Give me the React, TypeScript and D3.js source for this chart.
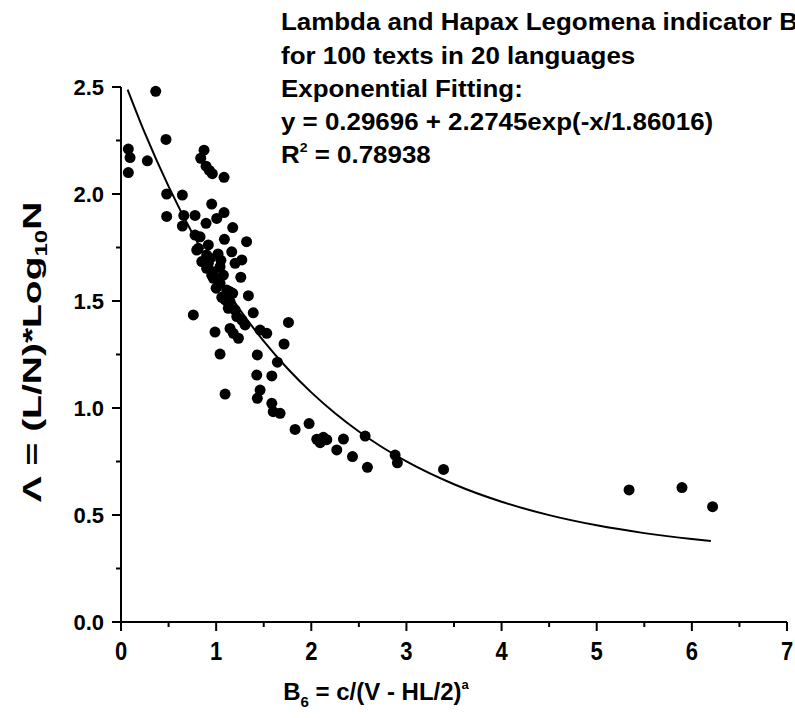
import React from 'react';
import * as d3 from 'd3';

const W = 795;
const H = 718;

const xTicks = [0, 1, 2, 3, 4, 5, 6, 7];
const xMinor = [0.5, 1.5, 2.5, 3.5, 4.5, 5.5, 6.5];
const yTicks = [0, 0.5, 1.0, 1.5, 2.0, 2.5];
const yMinor = [0.25, 0.75, 1.25, 1.75, 2.25];

const pointsX = [
  0.077, 0.095, 0.077, 0.277, 0.365, 0.473, 0.48, 0.645, 0.48, 0.66,
  0.645, 0.778, 0.873, 0.838, 0.894, 0.929, 0.96, 1.083, 0.953, 0.894,
  1.006, 1.083, 1.174, 0.831, 1.087, 1.32, 0.813, 0.918, 1.164, 0.9,
  1.27, 1.199, 0.883, 0.9, 0.971, 1.041, 1.076, 1.259, 1.041, 1.111,
  1.174, 1.339, 1.059, 1.128, 0.778, 0.796, 0.849, 0.918, 0.954, 0.971,
  1.146, 1.094, 1.146, 1.199, 1.217, 1.27, 1.304, 1.146, 1.18, 1.234,
  1.462, 1.532, 1.39, 0.76, 0.988, 1.76, 1.714, 1.041, 1.433, 1.644,
  1.427, 1.585, 1.094, 1.462, 1.433, 1.585, 1.6, 1.672, 1.83, 1.977,
  2.058, 2.127, 2.163, 2.093, 2.338, 2.268, 2.433, 2.566, 2.59, 2.881,
  2.905, 3.39, 5.34, 5.896, 6.218, 1.128, 1.0, 0.94, 1.02, 1.05,
];
const pointsY = [
  2.21, 2.17, 2.10, 2.155, 2.48, 2.255, 2.0, 1.995, 1.895, 1.9,
  1.85, 1.9, 2.205, 2.167, 2.13, 2.11, 2.095, 2.078, 1.953, 1.863,
  1.886, 1.913, 1.843, 1.8, 1.788, 1.777, 1.746, 1.762, 1.73, 1.715,
  1.692, 1.676, 1.684, 1.653, 1.637, 1.66, 1.621, 1.611, 1.583, 1.551,
  1.536, 1.525, 1.517, 1.489, 1.808, 1.738, 1.684, 1.676, 1.62, 1.606,
  1.543, 1.505, 1.497, 1.458, 1.427, 1.411, 1.388, 1.372, 1.349, 1.326,
  1.364, 1.349, 1.445, 1.435, 1.355, 1.4, 1.299, 1.252, 1.248, 1.214,
  1.154, 1.15, 1.065, 1.084, 1.045, 1.022, 0.983, 0.975, 0.9, 0.927,
  0.854, 0.863, 0.852, 0.838, 0.855, 0.804, 0.773, 0.869, 0.723, 0.78,
  0.744, 0.713, 0.617, 0.628, 0.539, 1.466, 1.56, 1.7, 1.72, 1.69,
];

// Exponential fit curve samples (as displayed on chart)
const fitX = [0.07, 0.25, 0.5, 0.75, 1.0, 1.25, 1.5, 1.75, 2.0, 2.25, 2.5, 2.75, 3.0, 3.5, 4.0, 4.5, 5.0, 5.5, 6.0, 6.2];
const fitY = [2.4876, 2.2854, 2.0354, 1.8168, 1.6257, 1.4585, 1.3125, 1.1847, 1.0731, 0.9754, 0.8902, 0.8155, 0.7503, 0.6436, 0.5618, 0.4994, 0.4517, 0.4153, 0.3873, 0.3781];

const titleLines = [
  'for 100 texts in 20 languages',
  'Exponential Fitting:',
  'y = 0.29696 + 2.2745exp(-x/1.86016)',
];

const FONT = '"Liberation Sans", Arial, sans-serif';

export default function App() {
  const x = d3.scaleLinear().domain([0, 7]).range([121, 787]);
  const y = d3.scaleLinear().domain([0, 2.5]).range([622, 87]);

  const line = d3
    .line<number>()
    .x((d, i) => x(fitX[i]))
    .y((d) => y(d))
    .curve(d3.curveMonotoneX);

  const x0 = x(0);
  const y0 = y(0);
  const TS = 1.08; // horizontal stretch of title text

  return (
    <svg
      width={W}
      height={H}
      style={{ position: 'absolute', left: 0, top: 0, background: '#fff' }}
      fontFamily={FONT}
      fontWeight="bold"
    >
      <rect x={0} y={0} width={W} height={H} fill="#fff" />
      {/* axes */}
      <line x1={x0} x2={x0} y1={y(2.5)} y2={y0 + 9} stroke="#000" strokeWidth={2} />
      <line x1={x0} x2={x(7)} y1={y0} y2={y0} stroke="#000" strokeWidth={2} />
      {yTicks.map((t) => (
        <g key={'yt' + t}>
          <line x1={x0 - 9} x2={x0} y1={y(t)} y2={y(t)} stroke="#000" strokeWidth={2} />
          <text x={x0 - 17} y={y(t) + 8} textAnchor="end" fontSize={22}>
            {t.toFixed(1)}
          </text>
        </g>
      ))}
      {yMinor.map((t) => (
        <line key={'ym' + t} x1={x0 - 5} x2={x0} y1={y(t)} y2={y(t)} stroke="#000" strokeWidth={2} />
      ))}
      {xTicks.map((t) => (
        <g key={'xt' + t}>
          <line x1={x(t)} x2={x(t)} y1={y0} y2={y0 + 9} stroke="#000" strokeWidth={2} />
          <text
            transform={`translate(${x(t)},${y0 + 38}) scale(1,1.15)`}
            textAnchor="middle"
            fontSize={22}
          >
            {t}
          </text>
        </g>
      ))}
      {xMinor.map((t) => (
        <line key={'xm' + t} x1={x(t)} x2={x(t)} y1={y0} y2={y0 + 5} stroke="#000" strokeWidth={2} />
      ))}

      {/* fit line */}
      <path d={line(fitY) || ''} fill="none" stroke="#000" strokeWidth={2} />

      {/* points */}
      {pointsX.map((px, i) => (
        <circle key={'p' + i} cx={x(px)} cy={y(pointsY[i])} r={5.5} fill="#000" />
      ))}

      {/* title block */}
      <g transform={`translate(281,30) scale(${TS},1)`}>
        <text x={0} y={0} fontSize={24}>
          Lambda and Hapax Legomena indicator B
          <tspan fontSize={15} dy={7}>6</tspan>
        </text>
      </g>
      {titleLines.map((t, i) => (
        <g key={'tl' + i} transform={`translate(281,${64 + i * 33}) scale(${TS},1)`}>
          <text x={0} y={0} fontSize={24}>
            {t}
          </text>
        </g>
      ))}
      <g transform={`translate(281,163) scale(${TS},1)`}>
        <text x={0} y={0} fontSize={24}>
          R<tspan fontSize={13} dy={-11}>2</tspan>
          <tspan dy={11}> = 0.78938</tspan>
        </text>
      </g>

      {/* axis titles */}
      <g transform="translate(41,352) rotate(-90) scale(1.5,1)">
        <text x={0} y={0} textAnchor="middle" fontSize={26}>
          Λ = (L/N)*Log<tspan fontSize={16} dy={6}>10</tspan>
          <tspan dy={-6}>N</tspan>
        </text>
      </g>
      <text x={376} y={700} textAnchor="middle" fontSize={24}>
        B<tspan fontSize={15} dy={7}>6</tspan>
        <tspan dy={-7}> = c/(V - HL/2)</tspan>
        <tspan fontSize={13} dy={-11}>a</tspan>
      </text>
    </svg>
  );
}
